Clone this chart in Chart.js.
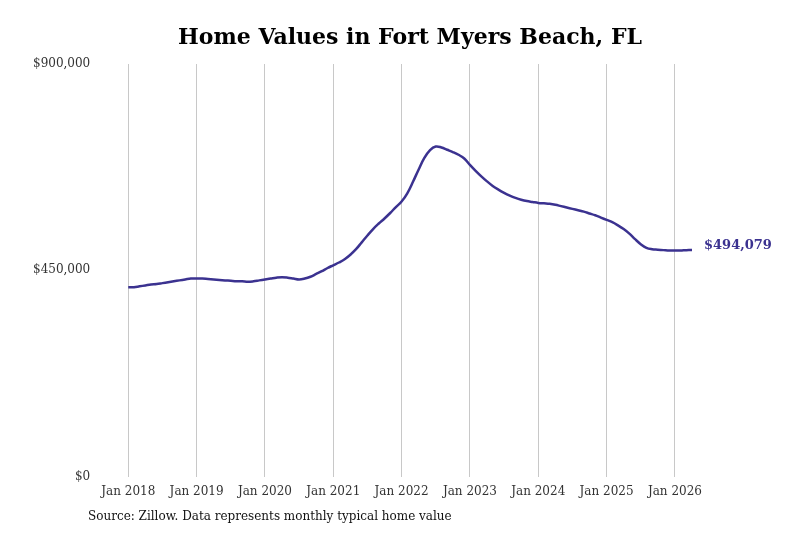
<!DOCTYPE html>
<html>
<head>
<script src="https://cdn.jsdelivr.net/npm/chart.js@4"></script>
<style>body{margin:0;background:#fff}</style>
</head>
<body>
<canvas id="myChart" width="800" height="533"></canvas>
<script>
const years = [2018, 2019, 2020, 2021, 2022, 2023, 2024, 2025, 2026]
const months = ['Jan','Feb','Mar','Apr','May','Jun','Jul','Aug','Sep','Oct','Nov','Dec']
// typical home value, thousands of dollars, monthly from Jan 2018
const values = [
  413,413,415,417,419,420,422,424,426,428,430,432,
  432,432,431,430,429,428,427,426,426,425,426,428,
  430,432,434,435,434,432,430,432,436,442,448,455,
  461,467,474,484,496,511,526,540,552,563,575,588,
  600,618,643,670,695,712,720,718,713,708,702,694,
  680,667,655,644,634,626,619,613,608,604,601,599,
  597,596,595,593,590,587,584,581,578,574,570,565,
  560,555,548,540,530,518,507,499,496,495,494,493,
  493,493,494,494.079
]
const yTicks = [0, 450000, 900000]
const endLabel = '$494,079'
const lineColor = '#3b3290'

const labels = []
years.forEach(y => months.forEach(m => labels.push(m + ' ' + y)))
labels.length = values.length

const serif = "'DejaVu Serif', 'Liberation Serif', serif"

const extras = {
    id: 'extras',
    afterDraw(chart) {
        const c = chart.ctx
        const meta = chart.getDatasetMeta(0)
        const last = meta.data[meta.data.length - 1]
        c.save()
        c.fillStyle = '#000'
        c.font = 'bold 22px ' + serif
        c.textAlign = 'center'
        c.textBaseline = 'middle'
        c.fillText('Home Values in Fort Myers Beach, FL', 410, 38)
        c.textAlign = 'left'
        c.fillStyle = lineColor
        c.font = 'bold 13px ' + serif
        c.fillText(endLabel, last.x + 12, last.y - 4)
        c.fillStyle = '#111'
        c.font = '12px ' + serif
        c.fillText('Source: Zillow. Data represents monthly typical home value', 88, 517)
        c.restore()
    }
}

const ctx = document.getElementById('myChart').getContext('2d')
new Chart(ctx, {
    type: 'line',
    data: {
        labels: labels,
        datasets: [{
            data: values.map(v => v * 1000),
            borderColor: lineColor,
            borderWidth: 2.5,
            pointRadius: 0,
            tension: 0.4,
            fill: false
        }]
    },
    options: {
        responsive: false,
        animation: false,
        layout: { padding: { left: 3, right: 108, top: 64, bottom: 26 } },
        plugins: {
            legend: { display: false },
            tooltip: { enabled: false }
        },
        scales: {
            x: {
                grid: {
                    color: c => (c.index % 12 === 0 ? '#c8c8c8' : 'rgba(0,0,0,0)'),
                    drawTicks: false
                },
                border: { display: false },
                ticks: {
                    autoSkip: false,
                    maxRotation: 0,
                    padding: 8,
                    color: '#333',
                    font: { family: serif, size: 12 },
                    callback: function(v, i) { return i % 12 === 0 ? labels[i] : '' }
                }
            },
            y: {
                min: 0,
                max: 900000,
                afterBuildTicks: axis => { axis.ticks = yTicks.map(v => ({ value: v })) },
                grid: { display: false },
                border: { display: false },
                ticks: {
                    color: '#333',
                    padding: 30,
                    font: { family: serif, size: 12 },
                    callback: v => '$' + v.toLocaleString('en-US')
                }
            }
        }
    },
    plugins: [extras]
})
</script>
</body>
</html>
